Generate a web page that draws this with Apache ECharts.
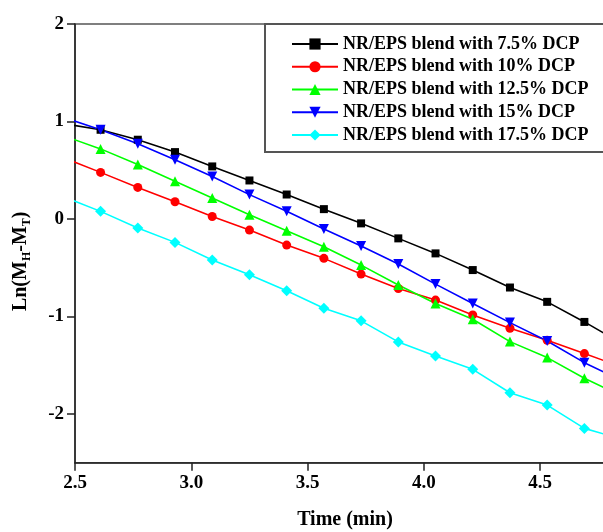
<!DOCTYPE html>
<html>
<head>
<meta charset="utf-8">
<script src="https://cdn.jsdelivr.net/npm/echarts@6/dist/echarts.min.js"></script>
<style>html,body{margin:0;padding:0;background:#fff}#c{width:603px;height:532px}</style>
</head>
<body>
<div id="c"></div>
<script>
const times = [2.45, 2.61, 2.77, 2.93, 3.09, 3.25, 3.41, 3.57, 3.73, 3.89, 4.05, 4.21, 4.37, 4.53, 4.69, 4.85];
const dcp75  = [0.979, 0.915, 0.813, 0.686, 0.539, 0.395, 0.251, 0.101, -0.045, -0.199, -0.353, -0.524, -0.703, -0.850, -1.056, -1.274];
const dcp10  = [0.630, 0.478, 0.324, 0.177, 0.026, -0.114, -0.268, -0.404, -0.565, -0.713, -0.832, -0.984, -1.121, -1.244, -1.381, -1.517];
const dcp125 = [0.854, 0.719, 0.558, 0.386, 0.215, 0.044, -0.121, -0.284, -0.473, -0.678, -0.867, -1.028, -1.258, -1.422, -1.634, -1.814];
const dcp15  = [1.043, 0.915, 0.771, 0.607, 0.435, 0.250, 0.079, -0.103, -0.277, -0.462, -0.668, -0.867, -1.063, -1.251, -1.474, -1.658];
const dcp175 = [0.228, 0.078, -0.092, -0.240, -0.421, -0.572, -0.737, -0.915, -1.045, -1.261, -1.405, -1.542, -1.782, -1.909, -2.148, -2.258];
const seriesNames = ['NR/EPS blend with 7.5% DCP', 'NR/EPS blend with 10% DCP', 'NR/EPS blend with 12.5% DCP', 'NR/EPS blend with 15% DCP', 'NR/EPS blend with 17.5% DCP'];
const xTicks = [2.5, 3.0, 3.5, 4.0, 4.5];
const yTicks = [-2, -1, 0, 1, 2];

const FONT = 'Liberation Serif';
const colors = ['#000000', '#ff0000', '#00ff00', '#0000ff', '#00ffff'];
const symbols = ['rect', 'circle', 'triangle', 'triangle', 'diamond'];
const sizes = [8, 9, 10, 10, 11];
const rotates = [0, 0, 0, 180, 0];
const allData = [dcp75, dcp10, dcp125, dcp15, dcp175];

const series = allData.map((vals, i) => ({
  name: seriesNames[i],
  type: 'line',
  data: times.map((t, j) => [t, vals[j]]),
  symbol: symbols[i],
  symbolSize: sizes[i],
  symbolRotate: rotates[i],
  showAllSymbol: true,
  clip: true,
  color: colors[i],
  lineStyle: { color: colors[i], width: 1.6 },
  itemStyle: { color: colors[i] },
  emphasis: { disabled: true },
  animation: false
}));

const chart = echarts.init(document.getElementById('c'), null, { renderer: 'canvas' });
chart.setOption({
  animation: false,
  backgroundColor: '#fff',
  grid: { left: 75, top: 24, width: 540, height: 438.7, show: true, borderColor: '#555', borderWidth: 1.5, backgroundColor: 'transparent', containLabel: false, outerBoundsMode: 'none' },
  legend: {
    orient: 'vertical', left: 265, top: 24,
    itemWidth: 46, itemHeight: 14, itemGap: 4.75,
    padding: [11, 70, 8, 26],
    borderColor: '#555', borderWidth: 2, backgroundColor: '#fff',
    textStyle: { fontFamily: FONT, fontWeight: 'bold', fontSize: 18, color: '#000', lineHeight: 18 },
    data: seriesNames
  },
  xAxis: {
    type: 'value', min: 2.5, max: 4.8216,
    name: 'Time (min)', nameLocation: 'middle', nameGap: 47,
    nameTextStyle: { fontFamily: FONT, fontWeight: 'bold', fontSize: 20, color: '#000' },
    axisLine: { show: true, onZero: false, lineStyle: { color: '#222', width: 1.5 } },
    axisTick: { show: true, inside: false, length: 8, customValues: xTicks, lineStyle: { color: '#222', width: 1.5 } },
    axisLabel: { customValues: xTicks, formatter: v => Number(v).toFixed(1), fontFamily: FONT, fontWeight: 'bold', fontSize: 19, color: '#000', margin: 11 },
    splitLine: { show: false }
  },
  yAxis: {
    type: 'value', min: -2.5, max: 2,
    name: '{a|Ln(M}{s|H}{a|-M}{s|T}{a|)}', nameLocation: 'middle', nameGap: 42, nameRotate: 90,
    nameTextStyle: {
      padding: [0, 36, 0, 0],
      rich: {
        a: { fontFamily: FONT, fontWeight: 'bold', fontSize: 20, color: '#000' },
        s: { fontFamily: FONT, fontWeight: 'bold', fontSize: 12, color: '#000', padding: [12, 0, 0, 0] }
      }
    },
    axisLine: { show: true, onZero: false, lineStyle: { color: '#222', width: 1.5 } },
    axisTick: { show: true, inside: false, length: 8, customValues: yTicks, lineStyle: { color: '#222', width: 1.5 } },
    axisLabel: { customValues: yTicks, fontFamily: FONT, fontWeight: 'bold', fontSize: 19, color: '#000', margin: 11 },
    splitLine: { show: false }
  },
  series: series
});
</script>
</body>
</html>
